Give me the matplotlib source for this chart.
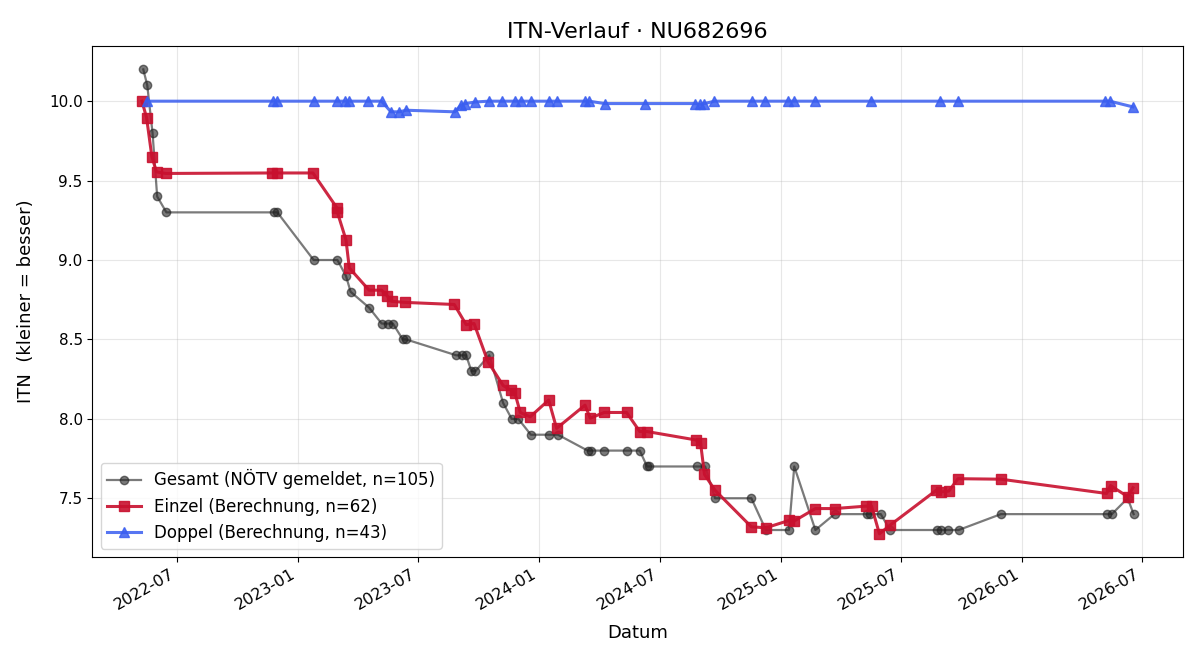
import matplotlib
matplotlib.use("Agg")
import matplotlib.pyplot as plt
import matplotlib.dates as mdates
import pandas as pd

# Gesamt (NÖTV gemeldet)
gesamt_dates = [
    "2022-05-11", "2022-05-17", "2022-05-25", "2022-06-01", "2022-06-15",
    "2022-11-25", "2022-11-30", "2023-01-24", "2023-03-01", "2023-03-14",
    "2023-03-21", "2023-04-18", "2023-05-07", "2023-05-16", "2023-05-24",
    "2023-06-08", "2023-06-13", "2023-08-28", "2023-09-05", "2023-09-12",
    "2023-09-20", "2023-09-26", "2023-10-17", "2023-11-07", "2023-11-20",
    "2023-11-30", "2023-12-19", "2024-01-15", "2024-01-29", "2024-03-14",
    "2024-03-19", "2024-04-08", "2024-05-13", "2024-06-01", "2024-06-12",
    "2024-06-15", "2024-08-26", "2024-09-08", "2024-09-23", "2024-11-17",
    "2024-12-09", "2025-01-13", "2025-01-21", "2025-02-22", "2025-03-23",
    "2025-05-11", "2025-05-16", "2025-06-01", "2025-06-15", "2025-08-25",
    "2025-09-01", "2025-09-11", "2025-09-27", "2025-11-30", "2026-05-09",
    "2026-05-17", "2026-06-10", "2026-06-19",
]
gesamt_itn = [
    10.2, 10.1, 9.8, 9.4, 9.3,
    9.3, 9.3, 9.0, 9.0, 8.9,
    8.8, 8.7, 8.6, 8.6, 8.6,
    8.5, 8.5, 8.4, 8.4, 8.4,
    8.3, 8.3, 8.4, 8.1, 8.0,
    8.0, 7.9, 7.9, 7.9, 7.8,
    7.8, 7.8, 7.8, 7.8, 7.7,
    7.7, 7.7, 7.7, 7.5, 7.5,
    7.3, 7.3, 7.7, 7.3, 7.4,
    7.4, 7.4, 7.4, 7.3, 7.3,
    7.3, 7.3, 7.3, 7.4, 7.4,
    7.4, 7.5, 7.4,
]

# Einzel (Berechnung)
einzel_dates = [
    "2022-05-09", "2022-05-16", "2022-05-24", "2022-05-31", "2022-06-14",
    "2022-11-22", "2022-11-29", "2023-01-23", "2023-02-28", "2023-03-01",
    "2023-03-14", "2023-03-19", "2023-04-18", "2023-05-07", "2023-05-15",
    "2023-05-22", "2023-06-12", "2023-08-25", "2023-09-12", "2023-09-24",
    "2023-10-15", "2023-11-07", "2023-11-19", "2023-11-25", "2023-12-03",
    "2023-12-18", "2024-01-15", "2024-01-27", "2024-03-10", "2024-03-18",
    "2024-04-08", "2024-05-12", "2024-06-01", "2024-06-12", "2024-08-25",
    "2024-09-01", "2024-09-07", "2024-09-23", "2024-11-17", "2024-12-09",
    "2025-01-13", "2025-01-21", "2025-02-22", "2025-03-23", "2025-05-09",
    "2025-05-18", "2025-05-30", "2025-06-15", "2025-08-24", "2025-09-01",
    "2025-09-12", "2025-09-26", "2025-11-30", "2026-05-09", "2026-05-15",
    "2026-06-10", "2026-06-18",
]
einzel_itn = [
    10.0, 9.895, 9.65, 9.555, 9.545,
    9.548, 9.548, 9.548, 9.33, 9.30,
    9.127, 8.95, 8.81, 8.81, 8.776,
    8.74, 8.733, 8.72, 8.593, 8.60,
    8.36, 8.21, 8.18, 8.16, 8.04,
    8.013, 8.118, 7.94, 8.086, 8.004,
    8.04, 8.04, 7.92, 7.92, 7.867,
    7.85, 7.65, 7.55, 7.32, 7.314,
    7.36, 7.357, 7.435, 7.435, 7.45,
    7.45, 7.276, 7.33, 7.55, 7.54,
    7.545, 7.623, 7.62, 7.53, 7.58,
    7.51, 7.566,
]

# Doppel (Berechnung)
doppel_dates = [
    "2022-05-16", "2022-11-24", "2022-11-29", "2023-01-24", "2023-02-28",
    "2023-03-13", "2023-03-19", "2023-04-17", "2023-05-07", "2023-05-21",
    "2023-06-03", "2023-06-13", "2023-08-26", "2023-09-04", "2023-09-11",
    "2023-09-26", "2023-10-16", "2023-11-06", "2023-11-25", "2023-12-04",
    "2023-12-19", "2024-01-15", "2024-01-28", "2024-03-10", "2024-03-16",
    "2024-04-09", "2024-06-09", "2024-08-24", "2024-08-31", "2024-09-07",
    "2024-09-22", "2024-11-18", "2024-12-08", "2025-01-12", "2025-01-20",
    "2025-02-21", "2025-05-17", "2025-08-30", "2025-09-26", "2026-05-07",
    "2026-05-14", "2026-06-18",
]
doppel_itn = [
    10.0, 10.0, 10.0, 10.0, 10.0,
    10.0, 10.0, 10.0, 10.0, 9.933,
    9.933, 9.943, 9.933, 9.975, 9.985,
    9.995, 10.0, 10.0, 10.0, 10.0,
    10.0, 10.0, 10.0, 10.0, 10.0,
    9.985, 9.985, 9.985, 9.98, 9.985,
    10.0, 10.0, 10.0, 10.0, 10.0,
    10.0, 10.0, 10.0, 10.0, 10.0,
    10.0, 9.964,
]

fig, ax = plt.subplots(figsize=(12, 6.6), dpi=100)

ax.plot(pd.to_datetime(gesamt_dates), gesamt_itn, marker="o", color="#222222",
        alpha=0.6, linewidth=1.6, markersize=6,
        label="Gesamt (NÖTV gemeldet, n=105)")
ax.plot(pd.to_datetime(einzel_dates), einzel_itn, marker="s", color="#c8102e",
        alpha=0.9, linewidth=2.2, markersize=7,
        label="Einzel (Berechnung, n=62)")
ax.plot(pd.to_datetime(doppel_dates), doppel_itn, marker="^", color="#3a5ef0",
        alpha=0.85, linewidth=2.2, markersize=7,
        label="Doppel (Berechnung, n=43)")

ax.set_title("ITN-Verlauf · NU682696", fontsize=16)
ax.set_xlabel("Datum", fontsize=13, labelpad=8)
ax.set_ylabel("ITN  (kleiner = besser)", fontsize=13, labelpad=10)
ax.grid(True, alpha=0.3)
ax.xaxis.set_major_locator(mdates.MonthLocator(bymonth=[1, 7]))
ax.xaxis.set_major_formatter(mdates.DateFormatter("%Y-%m"))
ax.tick_params(axis="y", labelsize=11)
ax.tick_params(axis="x", labelsize=11.5)
fig.autofmt_xdate()
ax.legend(loc="lower left", fontsize=12)

fig.subplots_adjust(left=0.077, right=0.986, top=0.930, bottom=0.156)
fig.savefig("out.png")
